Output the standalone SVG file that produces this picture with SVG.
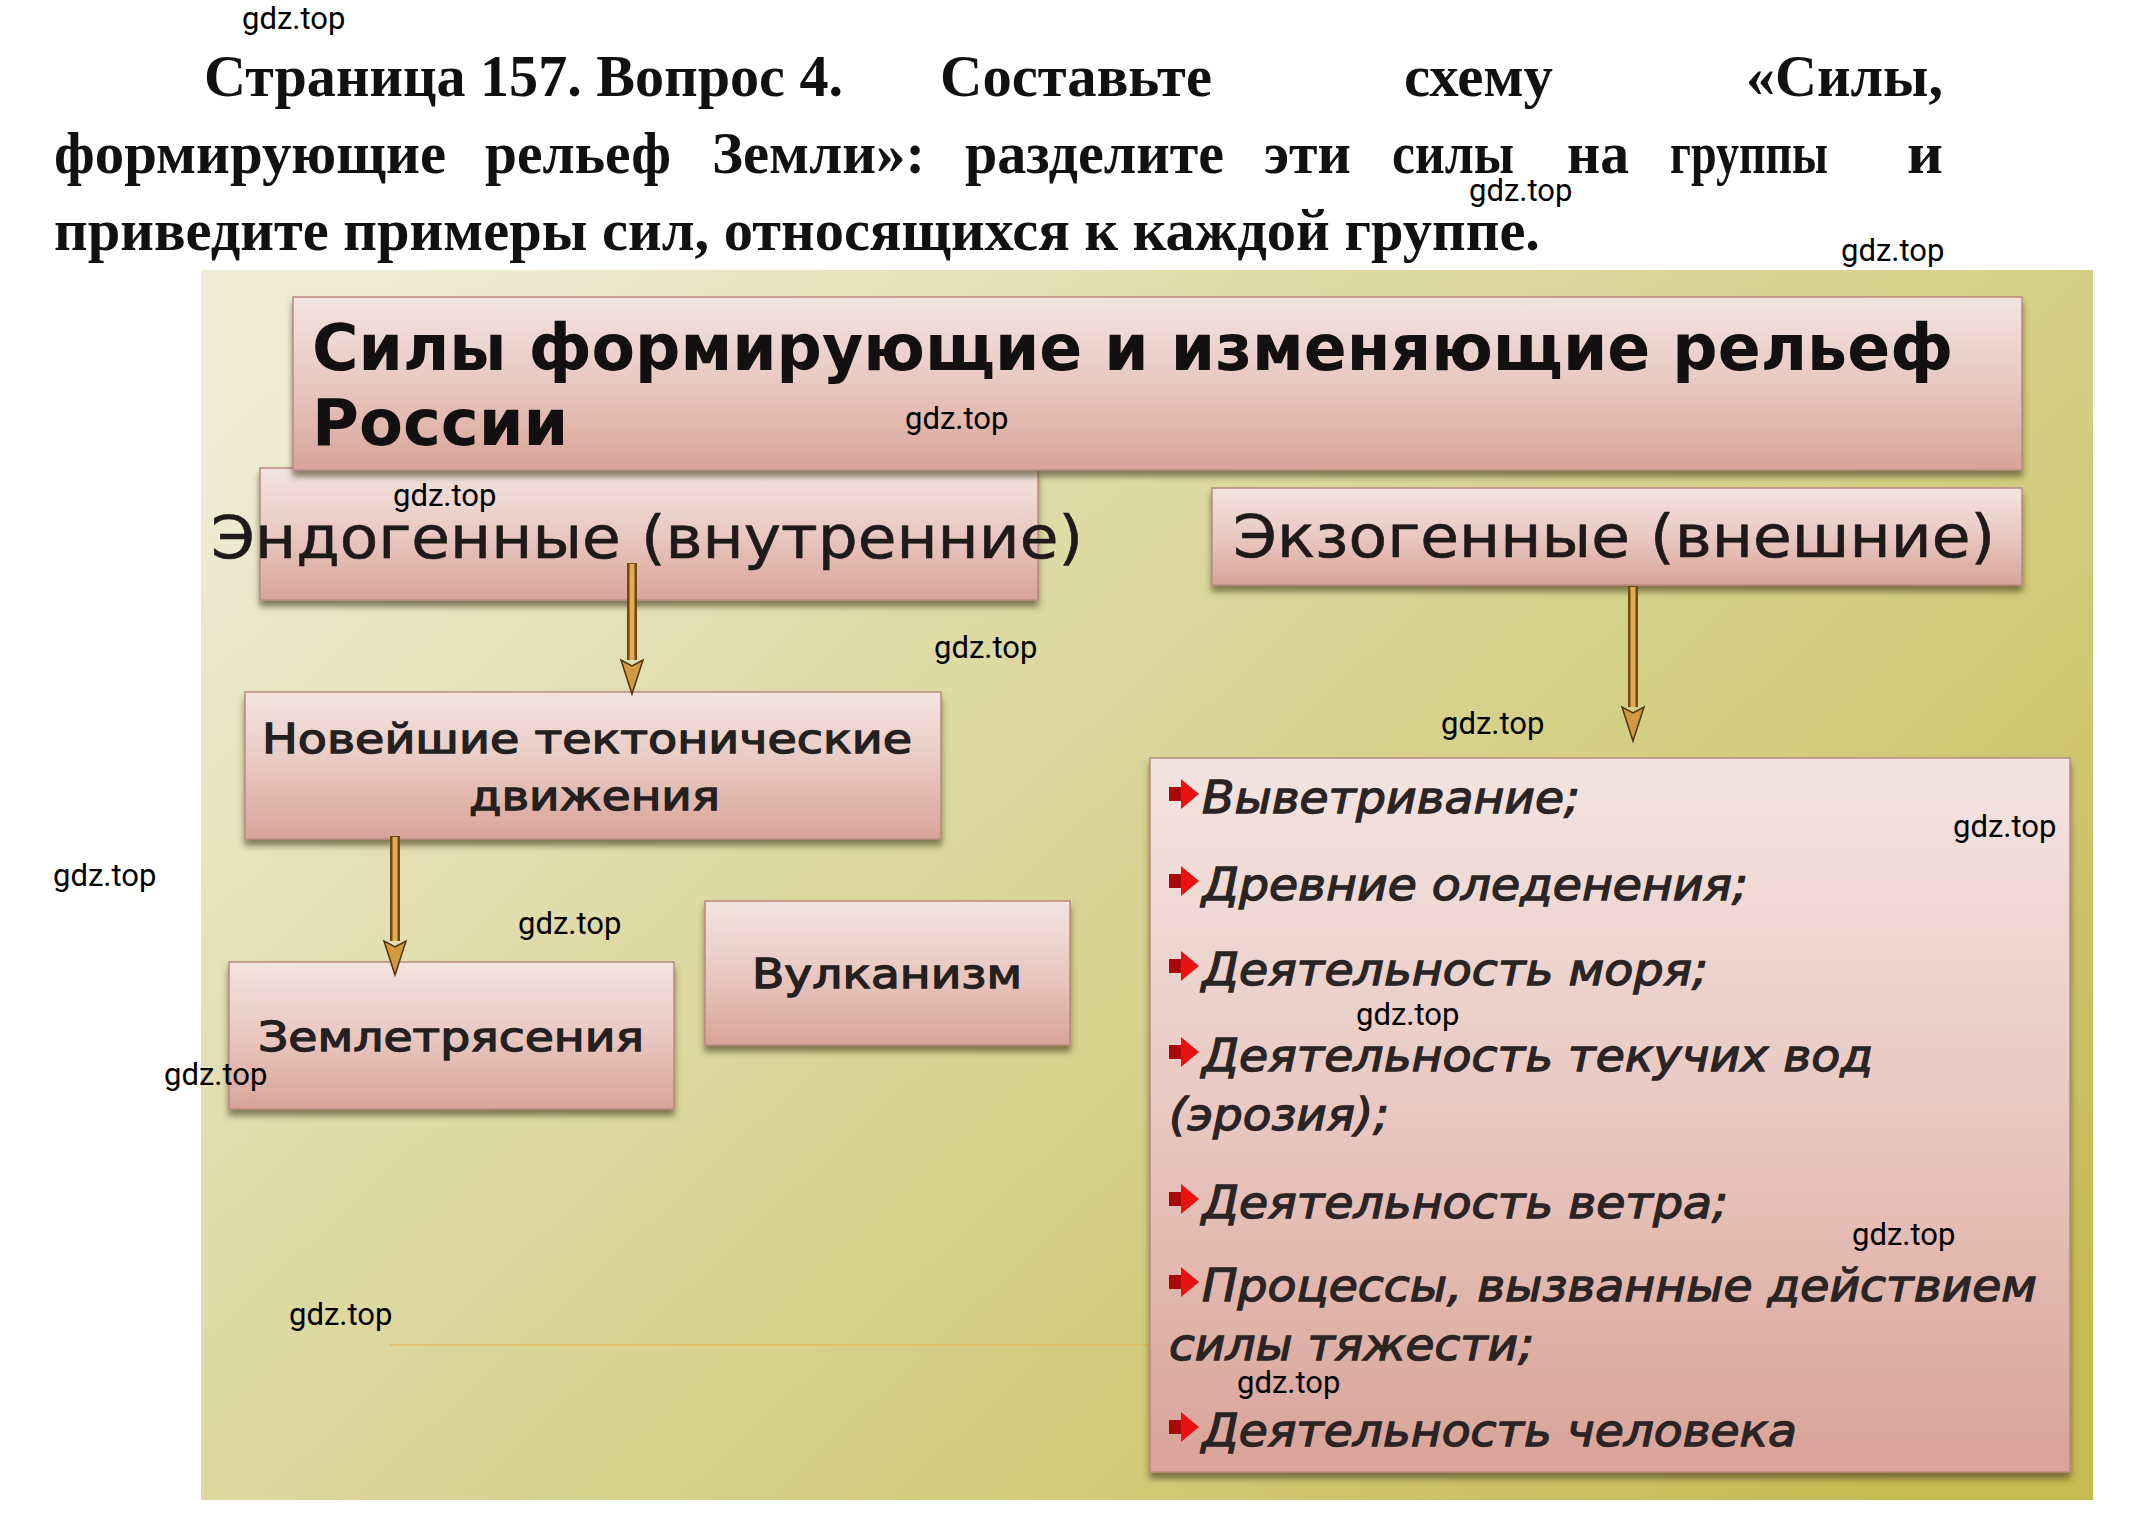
<svg xmlns="http://www.w3.org/2000/svg" width="2131" height="1529" viewBox="0 0 2131 1529">
<style>
.q{font-family:"Liberation Serif","Times New Roman",serif;font-weight:bold;font-size:60px;fill:#111}
.wm{font-family:Roboto,"Liberation Sans",sans-serif;font-size:31px;fill:#000}
.box{fill:url(#pink);stroke:#b88a80;stroke-width:1.5;filter:url(#sh)}
.t1{font-family:"DejaVu Sans",sans-serif;font-weight:bold;font-size:64px;fill:#121010}
.t2{font-family:"DejaVu Sans",sans-serif;font-size:58px;fill:#1e1a1a;stroke:#1e1a1a;stroke-width:0.6}
.t3{font-family:"DejaVu Sans",sans-serif;font-size:40px;fill:#242020;stroke:#242020;stroke-width:1.3}
.li{font-family:"DejaVu Sans",sans-serif;font-style:oblique;font-size:44px;fill:#2a2424;stroke:#2a2424;stroke-width:1.3}
.so{stroke:#6e4a12;stroke-width:10;fill:none}
.si{stroke:#e2ab52;stroke-width:5;fill:none}
</style>
<defs>
<linearGradient id="bg" x1="0" y1="0.15" x2="1" y2="0.85">
<stop offset="0" stop-color="#eeecd6"/>
<stop offset="0.3" stop-color="#e0dcaa"/>
<stop offset="0.65" stop-color="#d3cd80"/>
<stop offset="1" stop-color="#c5bb52"/>
</linearGradient>
<linearGradient id="pink" x1="0" y1="0" x2="0" y2="1">
<stop offset="0" stop-color="#f3e4e0"/>
<stop offset="0.5" stop-color="#e9c8c1"/>
<stop offset="1" stop-color="#d9a398"/>
</linearGradient>
<filter id="sh" x="-5%" y="-10%" width="110%" height="130%">
<feDropShadow dx="0" dy="6" stdDeviation="3" flood-color="#4e4420" flood-opacity="0.65"/>
</filter>
<marker id="head" markerUnits="userSpaceOnUse" markerWidth="40" markerHeight="26" refX="0" refY="11" orient="auto" viewBox="-2 -2 40 26">
<path d="M0,0 L34,11 L0,22 L6,11 Z" fill="#d19a40" stroke="#4e3410" stroke-width="1.5"/>
</marker>
<g id="bul">
<rect x="0" y="-7" width="15" height="14" fill="#a80808"/>
<path d="M12,-15 L30,0 L12,15 Z" fill="#e81212"/>
</g>
</defs>

<rect width="2131" height="1529" fill="#ffffff"/>

<g id="question">
<text class="q" x="204" y="96" textLength="639" lengthAdjust="spacingAndGlyphs">Страница 157. Вопрос 4.</text>
<text class="q" x="940" y="96" textLength="272" lengthAdjust="spacingAndGlyphs">Составьте</text>
<text class="q" x="1404" y="96" textLength="149" lengthAdjust="spacingAndGlyphs">схему</text>
<text class="q" x="1746" y="96" textLength="197" lengthAdjust="spacingAndGlyphs">«Силы,</text>
<text class="q" x="54" y="173" textLength="392" lengthAdjust="spacingAndGlyphs">формирующие</text>
<text class="q" x="485" y="173" textLength="186" lengthAdjust="spacingAndGlyphs">рельеф</text>
<text class="q" x="712" y="173" textLength="213" lengthAdjust="spacingAndGlyphs">Земли»:</text>
<text class="q" x="965" y="173" textLength="259" lengthAdjust="spacingAndGlyphs">разделите</text>
<text class="q" x="1264" y="173" textLength="87" lengthAdjust="spacingAndGlyphs">эти</text>
<text class="q" x="1392" y="173" textLength="122" lengthAdjust="spacingAndGlyphs">силы</text>
<text class="q" x="1567" y="173" textLength="62" lengthAdjust="spacingAndGlyphs">на</text>
<text class="q" x="1670" y="173" textLength="158" lengthAdjust="spacingAndGlyphs">группы</text>
<text class="q" x="1907" y="173" textLength="36" lengthAdjust="spacingAndGlyphs">и</text>
<text class="q" x="54" y="250" textLength="1486" lengthAdjust="spacingAndGlyphs">приведите примеры сил, относящихся к каждой группе.</text>
</g>

<rect id="backdrop" x="201" y="270" width="1892" height="1230" fill="url(#bg)"/>

<g id="connectors">
<line x1="390" y1="1345" x2="1150" y2="1345" stroke="#e2b85a" stroke-width="2" opacity="0.6"/>
</g>

<g id="node-endo">
<rect class="box" x="260" y="468" width="778" height="132"/>
<text class="t2" x="211" y="558" textLength="872" lengthAdjust="spacingAndGlyphs">Эндогенные (внутренние)</text>
</g>

<g id="node-title">
<rect class="box" x="293" y="297" width="1729" height="173"/>
<text class="t1" x="312" y="370" textLength="1641" lengthAdjust="spacingAndGlyphs">Силы формирующие и изменяющие рельеф</text>
<text class="t1" x="312" y="445">России</text>
</g>

<g id="node-exo">
<rect class="box" x="1212" y="488" width="810" height="97"/>
<text class="t2" x="1233" y="557" textLength="762" lengthAdjust="spacingAndGlyphs">Экзогенные (внешние)</text>
</g>

<g id="node-tectonic">
<rect class="box" x="245" y="692" width="696" height="147"/>
<text class="t3" x="262" y="753" textLength="650" lengthAdjust="spacingAndGlyphs">Новейшие тектонические</text>
<text class="t3" x="469" y="810" textLength="251" lengthAdjust="spacingAndGlyphs">движения</text>
</g>

<g id="node-earthquake">
<rect class="box" x="229" y="962" width="445" height="147"/>
<text class="t3" x="258" y="1051" textLength="386" lengthAdjust="spacingAndGlyphs">Землетрясения</text>
</g>

<g id="node-volcanism">
<rect class="box" x="705" y="901" width="365" height="144"/>
<text class="t3" x="752" y="988" textLength="270" lengthAdjust="spacingAndGlyphs">Вулканизм</text>
</g>

<g id="node-exo-list">
<rect class="box" x="1150" y="758" width="920" height="714"/>
<use href="#bul" x="1169" y="794"/>
<text class="li" x="1202" y="813" textLength="378" lengthAdjust="spacingAndGlyphs">Выветривание;</text>
<use href="#bul" x="1169" y="881"/>
<text class="li" x="1202" y="900" textLength="546" lengthAdjust="spacingAndGlyphs">Древние оледенения;</text>
<use href="#bul" x="1169" y="966"/>
<text class="li" x="1202" y="985" textLength="506" lengthAdjust="spacingAndGlyphs">Деятельность моря;</text>
<use href="#bul" x="1169" y="1052"/>
<text class="li" x="1202" y="1071" textLength="671" lengthAdjust="spacingAndGlyphs">Деятельность текучих вод</text>
<text class="li" x="1169" y="1130" textLength="220" lengthAdjust="spacingAndGlyphs">(эрозия);</text>
<use href="#bul" x="1169" y="1199"/>
<text class="li" x="1202" y="1218" textLength="526" lengthAdjust="spacingAndGlyphs">Деятельность ветра;</text>
<use href="#bul" x="1169" y="1282"/>
<text class="li" x="1202" y="1301" textLength="835" lengthAdjust="spacingAndGlyphs">Процессы, вызванные действием</text>
<text class="li" x="1169" y="1360" textLength="365" lengthAdjust="spacingAndGlyphs">силы тяжести;</text>
<use href="#bul" x="1169" y="1427"/>
<text class="li" x="1202" y="1446" textLength="595" lengthAdjust="spacingAndGlyphs">Деятельность человека</text>
</g>

<g id="arrows">
<line class="so" x1="632" y1="563" x2="632" y2="660" marker-end="url(#head)"/>
<line class="si" x1="632" y1="564" x2="632" y2="660"/>
<line class="so" x1="1633" y1="586" x2="1633" y2="707" marker-end="url(#head)"/>
<line class="si" x1="1633" y1="587" x2="1633" y2="707"/>
<line class="so" x1="395" y1="836" x2="395" y2="941" marker-end="url(#head)"/>
<line class="si" x1="395" y1="837" x2="395" y2="941"/>
</g>

<g id="watermarks">
<text class="wm" x="242" y="29">gdz.top</text>
<text class="wm" x="1469" y="201">gdz.top</text>
<text class="wm" x="1841" y="261">gdz.top</text>
<text class="wm" x="905" y="429">gdz.top</text>
<text class="wm" x="393" y="506">gdz.top</text>
<text class="wm" x="934" y="658">gdz.top</text>
<text class="wm" x="1441" y="734">gdz.top</text>
<text class="wm" x="1953" y="837">gdz.top</text>
<text class="wm" x="53" y="886">gdz.top</text>
<text class="wm" x="518" y="934">gdz.top</text>
<text class="wm" x="1356" y="1025">gdz.top</text>
<text class="wm" x="164" y="1085">gdz.top</text>
<text class="wm" x="1852" y="1245">gdz.top</text>
<text class="wm" x="289" y="1325">gdz.top</text>
<text class="wm" x="1237" y="1393">gdz.top</text>
</g>
</svg>
